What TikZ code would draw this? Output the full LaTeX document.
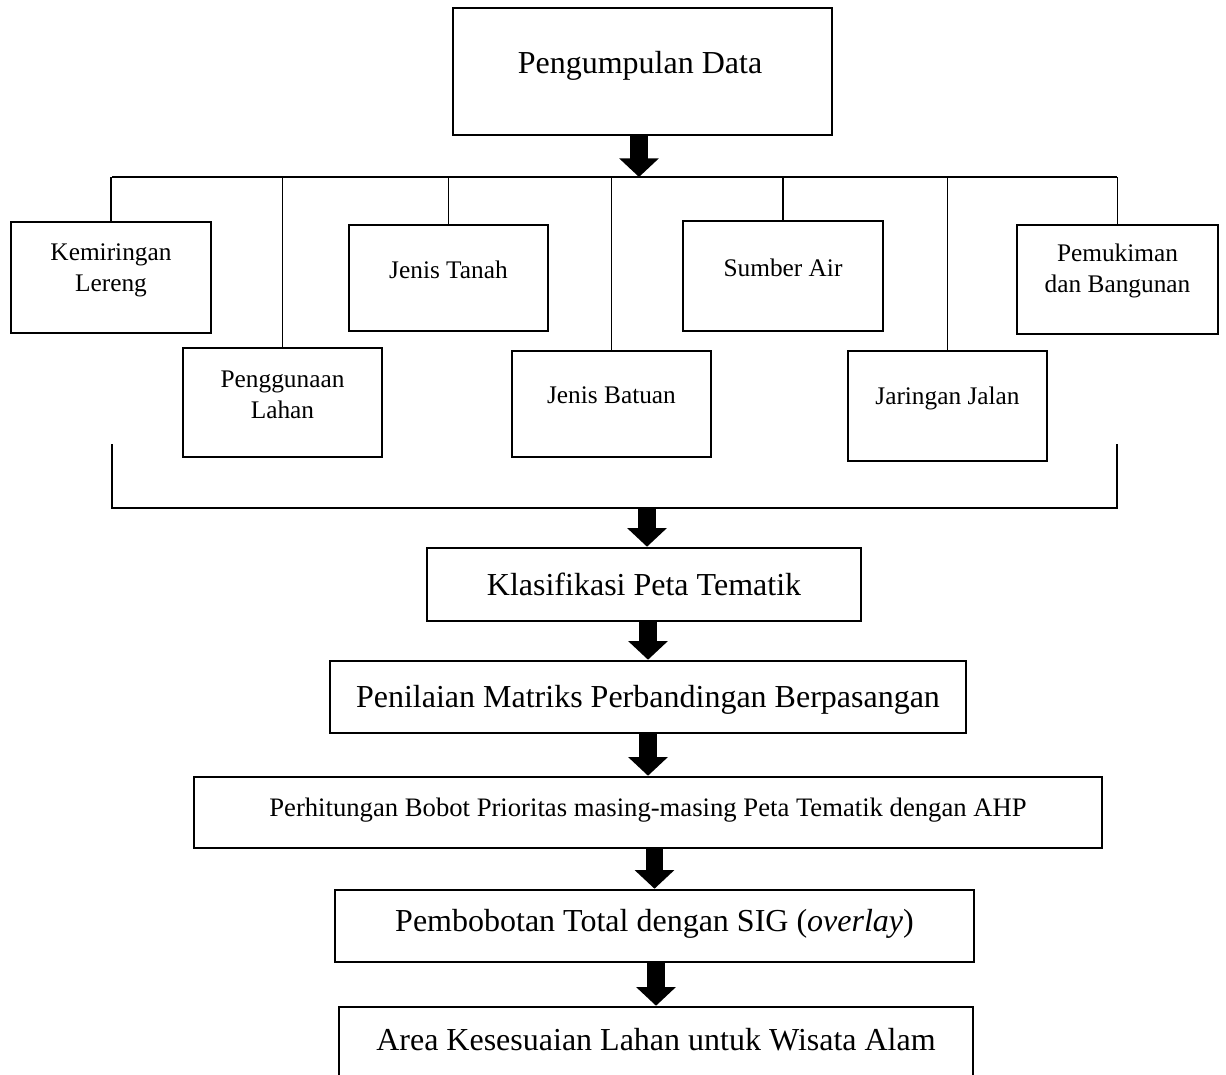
\documentclass[tikz,border=0pt]{standalone}
\usepackage{fontspec}
\setmainfont{Liberation Serif}
\usetikzlibrary{arrows.meta}
\begin{document}
\begin{tikzpicture}[x=0.75pt,y=-0.75pt,
  box/.style={draw,line width=1.9pt,inner sep=0pt,rectangle},
  wh/.style 2 args={minimum width=#1*0.75pt,minimum height=#2*0.75pt},
  bigtxt/.style={font=\fontsize{24}{28}\selectfont,inner sep=0pt},
  smalltxt/.style={font=\fontsize{19}{23.3}\selectfont,align=center,inner sep=0pt},
  midtxt/.style={font=\fontsize{20}{24}\selectfont,inner sep=0pt},
  conn/.style={line width=1.2pt},
  bigarrow/.style={line width=13pt,-{Triangle[width=29pt,length=14pt]}}]
\useasboundingbox (0,0) rectangle (1226,1074);
\clip (0,0) rectangle (1226,1074);

% main boxes
\node[box,wh={379}{127}] (top) at (642.5,71.5) {};
\node[bigtxt] (topt) at (640,66) {Pengumpulan Data};

% small boxes
\node[box,wh={200}{111}] (k) at (111,277.5) {};
\node[smalltxt] (kt) at (111,270) {Kemiringan\\Lereng};
\node[box,wh={199}{109}] (pg) at (282.5,402.5) {};
\node[smalltxt] (pgt) at (282.5,395) {Penggunaan\\Lahan};
\node[box,wh={199}{106}] (jt) at (448.5,278) {};
\node[smalltxt] (jtt) at (448.5,270) {Jenis Tanah};
\node[box,wh={199}{106}] (jb) at (611.5,404) {};
\node[smalltxt] (jbt) at (611.5,395) {Jenis Batuan};
\node[box,wh={200}{110}] (sa) at (783,276) {};
\node[smalltxt] (sat) at (783,268) {Sumber Air};
\node[box,wh={199}{110}] (jj) at (947.5,406) {};
\node[smalltxt] (jjt) at (947.5,398) {Jaringan Jalan};
\node[box,wh={201}{109}] (pm) at (1117.5,279.5) {};
\node[smalltxt] (pmt) at (1117.5,271) {Pemukiman\\dan Bangunan};

% bus
\coordinate (busL) at (112,177);
\coordinate (busR) at (1117,177);
\draw[conn] (busL) -- (busR);
\foreach \n in {k,pg,jt,jb,sa,jj,pm}{
  \draw[conn] (\n.north) -- (\n.north |- busL);
}

% bracket
\coordinate (brL) at (112,444);
\coordinate (brR) at (1117,444);
\coordinate (brB) at (647,508);
\draw[conn] (brL) |- (brB) -| (brR);

% flow boxes
\node[box,wh={434}{73}] (klas) at (644,584.5) {};
\node[bigtxt] (klast) at (644,584) {Klasifikasi Peta Tematik};
\node[box,wh={636}{72}] (pen) at (648,697) {};
\node[bigtxt] (pent) at (648,700) {Penilaian Matriks Perbandingan Berpasangan};
\node[box,wh={908}{71}] (per) at (648,812.5) {};
\node[midtxt] (pert) at (648,810) {Perhitungan Bobot Prioritas masing-masing Peta Tematik dengan AHP};
\node[box,wh={639}{72}] (pem) at (654.5,926) {};
\node[bigtxt] (pemt) at (654.5,924) {Pembobotan Total dengan SIG (\textit{overlay})};
\node[box,wh={634}{120}] (area) at (656,1067) {};
\node[bigtxt] (areat) at (656,1040) {Area Kesesuaian Lahan untuk Wisata Alam};

% arrows
\draw[bigarrow] (top.south -| 639,0) -- (busL -| 639,0);
\draw[bigarrow] (brB) -- (brB |- klas.north);
\draw[bigarrow] (pen.north |- klas.south) -- (pen.north);
\draw[bigarrow] (per.north |- pen.south) -- (per.north);
\draw[bigarrow] (pem.north |- per.south) -- (pem.north);
\draw[bigarrow] (area.north |- pem.south) -- (area.north);
\end{tikzpicture}
\end{document}
